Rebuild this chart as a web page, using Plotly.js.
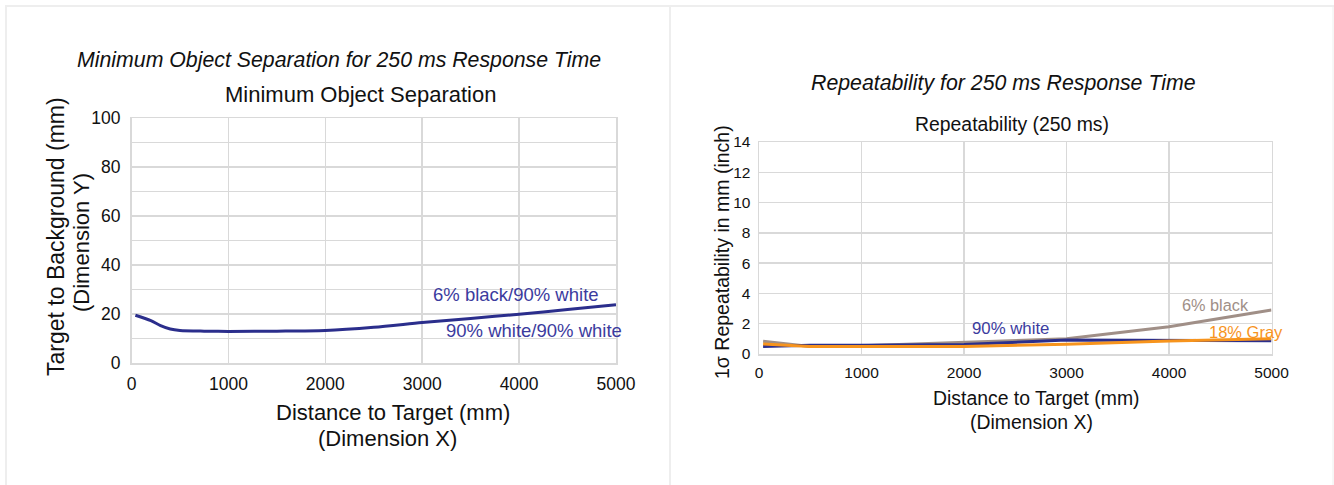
<!DOCTYPE html>
<html>
<head>
<meta charset="utf-8">
<script src="https://cdn.plot.ly/plotly-3.0.1.min.js"></script>
<style>
html,body{margin:0;padding:0;background:#fff;}
#chart{width:1334px;height:485px;}
</style>
</head>
<body>
<div id="chart"></div>
<script>
// ---- Data ----
const sepDistance = [40, 200, 300, 400, 500, 750, 1000, 1500, 2000, 2500, 3000, 3500, 4000, 4500, 5000];
const sepValues   = [19.5, 17.3, 15.3, 13.9, 13.3, 13.0, 12.9, 13.0, 13.3, 14.6, 16.5, 18.2, 19.9, 21.8, 23.8];

const repDistance = [40, 500, 1000, 2000, 3000, 4000, 5000];
const rep6Black   = [0.84, 0.50, 0.55, 0.77, 1.00, 1.80, 2.90];
const rep90White  = [0.50, 0.58, 0.58, 0.62, 0.93, 0.93, 0.88];
const rep18Gray   = [0.66, 0.49, 0.49, 0.50, 0.64, 0.86, 1.00];

const xTicks = [0, 1000, 2000, 3000, 4000, 5000];

// ---- Layout helpers (pixel -> paper) ----
const W = 1334, H = 485;
const px = x => x / W;
const py = y => 1 - y / H;

const FONT = "Liberation Sans, Arial, Helvetica, sans-serif";
const GRID = "#d9d9d9";

const traces = [
  {x: sepDistance, y: sepValues, type: "scatter", mode: "lines", xaxis: "x", yaxis: "y",
   line: {color: "#2b2e8c", width: 3, shape: "spline", smoothing: 0.8}, name: "Min separation"},
  {x: repDistance, y: rep6Black, type: "scatter", mode: "lines", xaxis: "x2", yaxis: "y2",
   line: {color: "#a08f87", width: 3}, name: "6% black"},
  {x: repDistance, y: rep90White, type: "scatter", mode: "lines", xaxis: "x2", yaxis: "y2",
   line: {color: "#2b2e8c", width: 3}, name: "90% white"},
  {x: repDistance, y: rep18Gray, type: "scatter", mode: "lines", xaxis: "x2", yaxis: "y2",
   line: {color: "#f7941d", width: 3}, name: "18% Gray"}
];

const axCommon = {
  showgrid: true, gridcolor: GRID, gridwidth: 1.5,
  showline: true, linecolor: GRID, linewidth: 1.5, mirror: true,
  zeroline: false, ticks: "", fixedrange: true
};

const layout = {
  width: W, height: H,
  margin: {l: 0, r: 0, t: 0, b: 0},
  paper_bgcolor: "#ffffff", plot_bgcolor: "#ffffff",
  showlegend: false,
  font: {family: FONT, color: "#111"},
  xaxis: Object.assign({}, axCommon, {
    domain: [px(131.5), px(616)], range: [0, 5000], tickvals: xTicks,
    tickfont: {size: 17.5, family: FONT, color: "#111"}, anchor: "y", ticklabelstandoff: 4
  }),
  yaxis: Object.assign({}, axCommon, {
    domain: [py(363), py(118)], range: [0, 100], dtick: 20,
    minor: {dtick: 10, showgrid: true, gridcolor: GRID, gridwidth: 1.5},
    tickfont: {size: 17.5, family: FONT, color: "#111"}, anchor: "x", ticklabelstandoff: 6
  }),
  xaxis2: Object.assign({}, axCommon, {
    domain: [px(759), px(1271.5)], range: [0, 5000], tickvals: xTicks,
    tickfont: {size: 15.5, family: FONT, color: "#111"}, anchor: "y2", ticklabelstandoff: 4
  }),
  yaxis2: Object.assign({}, axCommon, {
    domain: [py(354), py(142)], range: [0, 14], dtick: 2,
    tickfont: {size: 15.5, family: FONT, color: "#111"}, anchor: "x2", ticklabelstandoff: 4
  }),
  shapes: [
    {type: "line", xref: "paper", yref: "paper", x0: px(5), x1: px(1334), y0: py(6), y1: py(6), line: {color: "#eeeeee", width: 2}},
    {type: "line", xref: "paper", yref: "paper", x0: px(6), x1: px(6), y0: py(6), y1: py(485), line: {color: "#eeeeee", width: 2}},
    {type: "line", xref: "paper", yref: "paper", x0: px(670), x1: px(670), y0: py(6), y1: py(485), line: {color: "#eeeeee", width: 2}},
    {type: "line", xref: "paper", yref: "paper", x0: px(1333), x1: px(1333), y0: py(6), y1: py(485), line: {color: "#eeeeee", width: 1}}
  ],
  annotations: []
};

function note(text, x, y, size, opts) {
  layout.annotations.push(Object.assign({
    text: text, xref: "paper", yref: "paper", x: px(x), y: py(y),
    xanchor: "center", yanchor: "middle", showarrow: false,
    font: {family: FONT, size: size, color: "#111"}
  }, opts || {}));
}

// Left panel texts
note("<i>Minimum Object Separation for 250 ms Response Time</i>", 339, 60, 21.3);
note("Minimum Object Separation", 360.5, 95, 22);
note("Target to Background (mm)", 56, 237, 23, {textangle: -90});
note("(Dimension Y)", 81, 243, 22, {textangle: -90});
note("Distance to Target (mm)", 393, 412, 22);
note("(Dimension X)", 387, 438, 22);
note("6% black/90% white", 515.5, 294, 18.5, {font: {family: FONT, size: 18.5, color: "#3b3b9e"}});
note("90% white/90% white", 534, 330, 18.5, {font: {family: FONT, size: 18.5, color: "#3b3b9e"}});

// Right panel texts
note("<i>Repeatability for 250 ms Response Time</i>", 1003, 83, 21.3);
note("Repeatability (250 ms)", 1011.5, 124, 19.4);
note("1σ Repeatability in mm (inch)", 722, 252, 19.5, {textangle: -90});
note("Distance to Target (mm)", 1036, 398, 19.4);
note("(Dimension X)", 1031.5, 422, 19.4);
note("6% black", 1215.5, 305, 16.3, {font: {family: FONT, size: 16.3, color: "#a08f87"}});
note("90% white", 1010.5, 328, 16.8, {font: {family: FONT, size: 16.8, color: "#3b3b9e"}});
note("18% Gray", 1245.5, 332, 16.5, {font: {family: FONT, size: 16.5, color: "#f7941d"}});

Plotly.newPlot("chart", traces, layout, {displayModeBar: false, staticPlot: true});
</script>
</body>
</html>
